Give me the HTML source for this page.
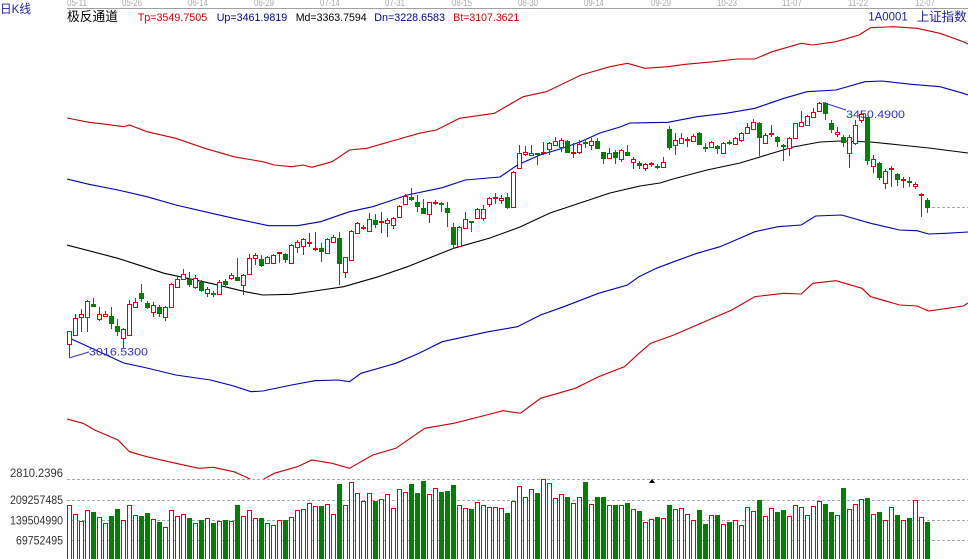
<!DOCTYPE html>
<html><head><meta charset="utf-8">
<style>
html,body{margin:0;padding:0;background:#fff;}
svg{display:block;}
text{font-family:"Liberation Sans","Noto Sans CJK SC",sans-serif;}
</style></head>
<body>
<svg id="s" width="968" height="559" viewBox="0 0 968 559" xmlns="http://www.w3.org/2000/svg">
<rect x="0" y="0" width="968" height="559" fill="#fff"/>
<defs><clipPath id="cp"><rect x="67" y="9" width="901" height="470"/></clipPath></defs>
<g fill="#a8a8a8" font-size="10.5">
<text x="67" y="6" textLength="20" lengthAdjust="spacingAndGlyphs">05-11</text>
<text x="122" y="6" textLength="20" lengthAdjust="spacingAndGlyphs">05-26</text>
<text x="188" y="6" textLength="20" lengthAdjust="spacingAndGlyphs">06-14</text>
<text x="254" y="6" textLength="20" lengthAdjust="spacingAndGlyphs">06-29</text>
<text x="320" y="6" textLength="20" lengthAdjust="spacingAndGlyphs">07-14</text>
<text x="385" y="6" textLength="20" lengthAdjust="spacingAndGlyphs">07-31</text>
<text x="452" y="6" textLength="20" lengthAdjust="spacingAndGlyphs">08-15</text>
<text x="518" y="6" textLength="20" lengthAdjust="spacingAndGlyphs">08-30</text>
<text x="584" y="6" textLength="20" lengthAdjust="spacingAndGlyphs">09-14</text>
<text x="651" y="6" textLength="20" lengthAdjust="spacingAndGlyphs">09-29</text>
<text x="717" y="6" textLength="20" lengthAdjust="spacingAndGlyphs">10-23</text>
<text x="782" y="6" textLength="20" lengthAdjust="spacingAndGlyphs">11-07</text>
<text x="848" y="6" textLength="20" lengthAdjust="spacingAndGlyphs">11-22</text>
<text x="915" y="6" textLength="20" lengthAdjust="spacingAndGlyphs">12-07</text>
</g>
<line x1="67" y1="8.5" x2="968" y2="8.5" stroke="#a0a0a0" stroke-width="1"/>
<text x="0" y="13" font-size="12" fill="#2020b0" textLength="31" lengthAdjust="spacingAndGlyphs">日K线</text>
<text x="67" y="21" font-size="13" fill="#000" textLength="51" lengthAdjust="spacingAndGlyphs">极反通道</text>
<g font-size="11">
<text x="137.7" y="21" fill="#d00000" textLength="69.5" lengthAdjust="spacingAndGlyphs">Tp=3549.7505</text>
<text x="216.7" y="21" fill="#000090" textLength="70.5" lengthAdjust="spacingAndGlyphs">Up=3461.9819</text>
<text x="295.7" y="21" fill="#000" textLength="71" lengthAdjust="spacingAndGlyphs">Md=3363.7594</text>
<text x="374.3" y="21" fill="#000090" textLength="70.7" lengthAdjust="spacingAndGlyphs">Dn=3228.6583</text>
<text x="453.3" y="21" fill="#d00000" textLength="66" lengthAdjust="spacingAndGlyphs">Bt=3107.3621</text>
</g>
<text x="868.3" y="20.7" font-size="12" fill="#1a1aa0" font-family="Liberation Serif,serif" textLength="39.4" lengthAdjust="spacingAndGlyphs">1A0001</text>
<text x="916.7" y="21" font-size="12.5" fill="#1a1aa0" textLength="50" lengthAdjust="spacingAndGlyphs">上证指数</text>

<g stroke="#a8a8a8" stroke-width="1" stroke-dasharray="3,2">
<line x1="67" y1="479.5" x2="968" y2="479.5"/>
<line x1="67" y1="500.5" x2="968" y2="500.5"/>
<line x1="67" y1="520.5" x2="968" y2="520.5"/>
<line x1="67" y1="540.5" x2="968" y2="540.5"/>
<line x1="932" y1="207.5" x2="968" y2="207.5"/>
</g>
<g font-size="11.5" fill="#333">
<text x="10" y="477" textLength="53" lengthAdjust="spacingAndGlyphs">2810.2396</text>
<text x="10" y="504" textLength="53" lengthAdjust="spacingAndGlyphs">209257485</text>
<text x="10" y="524.5" textLength="53" lengthAdjust="spacingAndGlyphs">139504990</text>
<text x="16" y="544.5" textLength="47" lengthAdjust="spacingAndGlyphs">69752495</text>
</g>
<polygon points="649,483 655,483 652,479" fill="#000"/>

<g clip-path="url(#cp)" fill="none" stroke-width="1.1">
<polyline stroke="#c80000" points="67,118 89,122.3 106,124.3 123.7,126.7 129.5,125 146.9,131.7 175.8,138.3 204.8,148.3 233.7,156.7 262.7,161.7 274.2,165 291.6,166.7 303.2,165 311.9,167.3 332.1,161.7 349.5,150 366.9,148.3 395.8,140 419,133.3 436.4,130 459.5,118.3 494.3,113.3 523.2,96.7 546.4,91.7 581.1,75 610,66.7 627.5,63.3 644.8,68.3 668,66.7 685.4,64.3 714.3,61.7 737.5,59 754.9,59 772.2,51.7 801.2,43.3 812.8,45 835.9,41.7 859,35 870.7,27.7 893.8,26.7 917,28.3 940,33.3 963.3,41.7 968,44"/>
<polyline stroke="#0000b8" points="67,179 89,184.3 117.9,190 146.9,196.7 175.8,205 204.8,211.7 233.7,218.3 268.5,225.7 297.4,225.7 320.6,221.7 349.5,211.7 372.7,206.7 407.4,195 442.2,187.7 465.3,180 500,177 517.4,165 540,155 560,149 580,142 600,133 620,127 630,123 668,122.3 697,116.7 726,113.3 754.9,108.3 784,98.3 807,91.7 835.9,90 865,81.7 882.2,81 911.2,84.3 940,86.7 963.3,93.3 968,95"/>
<polyline stroke="#000" points="67,245 117.9,258.3 164.2,273.3 210.6,283.3 245.3,291.7 262.7,295 291.6,294.3 314.8,291 343.7,286.7 378.5,276.7 407.4,266.7 453.7,248.3 490,238 520,227 550,213 580,203 610,193 640,186 660,183 673,179 707,170 740,163 773,153 793,147 820,142 840,141 871,142 900,145 929,148 968,153"/>
<polyline stroke="#0000b8" points="67,337 89,347 123.7,363 146.9,368 175.8,375 210.6,380 233.7,386 251,391.7 262.7,391 291.6,385 314.8,380.7 338,380 349.5,381.7 361,373.3 395.8,363.3 419,353.3 442.2,341.7 465.3,336.7 488.5,331.7 517.4,326.7 540.6,315 563.8,306.7 598.5,293.3 627.5,285 639,276.7 656.4,268.3 673.8,261.7 697,253.3 720,246.7 737.5,239.3 754.9,231.7 778,226.7 801.2,225 815.6,216 841.7,215 870.7,223.3 899.6,230 917,230.7 928.6,234 946,233.3 968,232"/>
<polyline stroke="#c80000" points="67,419 83,423.3 94.7,430 117.9,440 129.5,451.7 146.9,456.7 175.8,463.3 199,468.3 213.4,467.3 233.7,471.7 245.3,476.7 254,481 262,480 274.2,473.3 297.4,466.7 311.9,460 332.1,463.3 349.5,468.3 372.7,455 395.8,448.3 424.8,428.3 453.7,423.3 482.7,416 503,410.7 520.3,413.3 540.6,398.3 575.3,388.3 598.5,376.7 624.6,366.7 639,353.3 650.6,343.3 673.8,335 697,325 731.7,310 754.9,296.7 783.8,293.3 801.2,294 812.8,283.3 835.9,280.7 862,288.3 870.7,296.7 899.6,305 917,306 928.6,311 963.3,306 968,303"/>
</g>
<g id="cd" shape-rendering="crispEdges"></g>
<g id="vb" shape-rendering="crispEdges"></g>
<line x1="69" y1="358" x2="89" y2="352" stroke="#3030c0" stroke-width="1"/>
<text x="89" y="355.5" font-size="11" fill="#3030c0" textLength="59" lengthAdjust="spacingAndGlyphs">3016.5300</text>
<line x1="823" y1="102.5" x2="846" y2="110" stroke="#3030c0" stroke-width="1"/>
<text x="846" y="118" font-size="11" fill="#3030c0" textLength="59" lengthAdjust="spacingAndGlyphs">3450.4900</text>
</svg>
<script>
var C=[
['r',331,344,331,357],['r',318,335,314,336],['r',314,317,309,332],['r',301,317,300,332],['g',304,306,298,307],
['r',314,319,307,321],['r',314,316,311,317],['g',316,323,307,329],['g',326,331,319,336],['r',329,338,328,348],
['r',304,335,300,336],['r',302,307,298,308],['g',293,298,284,302],['g',303,307,301,309],['r',305,312,302,317],
['g',307,313,305,317],['r',307,317,306,321],['r',284,307,283,308],['r',279,287,277,288],['r',274,279,269,280],
['g',279,284,272,287],['r',278,287,275,289],['g',282,290,280,292],['r',289,293,287,297],['g',293,294,291,297],
['r',282,294,280,295],['g',281,284,279,286],['r',275,278,273,280],['g',277,280,258,281],['r',275,285,274,295],
['r',258,274,254,275],['r',255,258,253,265],['g',259,265,255,267],['r',257,263,256,264],['r',255,263,254,264],
['r',252,253,252,263],['g',254,259,253,263],['r',245,263,244,264],['r',242,247,240,253],['r',239,246,238,255],
['r',242,243,233,247],['r',248,249,232,251],['g',248,251,243,262],['r',239,253,238,254],['r',237,242,235,242],
['g',238,263,232,285],['r',257,272,257,278],['r',231,260,230,261],['r',223,233,222,234],['r',227,228,225,230],
['r',219,231,213,232],['g',220,224,214,228],['r',221,222,212,233],['r',220,223,218,237],['r',218,225,217,229],
['r',206,217,205,218],['r',196,204,194,205],['g',197,199,188,201],['g',202,206,195,212],['g',208,213,199,213],
['r',202,214,202,223],['r',202,203,200,205],['g',203,204,202,212],['g',208,212,202,227],['g',227,244,223,249],
['r',227,246,226,247],['r',219,228,212,228],['g',221,222,221,232],['r',209,218,208,219],['r',209,218,205,221],
['r',198,204,197,207],['r',197,198,193,204],['r',198,200,195,204],['g',197,207,193,209],['r',172,207,171,208],
['r',153,168,145,169],['r',152,154,146,156],['r',153,155,145,155],['g',153,154,153,165],['r',152,153,142,155],
['r',143,149,142,155],['r',141,145,137,145],['r',140,147,138,152],['g',141,152,140,153],['r',152,153,143,158],
['r',144,152,140,154],['g',142,143,139,148],['r',141,145,138,150],['g',141,148,138,148],['g',152,158,152,164],
['r',153,158,148,158],['g',152,157,150,164],['r',150,159,149,162],['g',152,155,145,156],['r',159,162,157,169],
['g',163,165,161,169],['r',164,168,163,171],['r',163,164,162,167],['g',166,167,164,169],['r',162,167,157,167],
['g',129,147,126,150],['r',140,145,133,155],['r',138,143,133,144],['r',139,140,137,147],['r',136,141,134,142],
['g',133,144,132,145],['g',147,148,143,152],['r',142,147,141,147],['g',146,148,145,154],['r',143,153,142,154],
['g',142,143,140,145],['r',138,144,137,145],['r',133,140,132,142],['r',127,133,123,134],['r',122,129,119,130],
['g',123,137,122,156],['r',135,143,133,143],['r',133,134,125,137],['g',137,141,136,147],['g',145,146,144,161],
['r',138,148,137,156],['r',123,138,123,138],['r',122,126,111,127],['r',116,125,115,126],['r',112,117,108,117],
['r',103,111,102,112],['g',103,113,102,120],['g',123,129,120,133],['r',132,134,127,137],['g',137,142,135,147],
['r',137,153,135,168],['r',125,143,120,145],['r',114,120,111,123],['g',117,160,117,165],['r',159,166,155,173],
['g',163,177,162,180],['r',171,183,169,189],['r',168,169,166,187],['g',174,179,173,186],['r',179,180,177,188],
['g',181,182,177,187],['r',184,186,182,189],['r',194,195,193,217],['g',200,207,198,213]
];
var V=[505,514,521,510,512,517,523,516,509,520,505,515,516,513,519,522,527,510,516,514,518,523,520,518,523,521,520,521,505,516,510,518,518,523,525,520,520,517,510,509,503,506,506,504,514,484,505,482,493,501,493,501,499,494,508,489,492,484,493,481,494,488,492,491,485,505,508,509,502,505,507,507,508,513,501,486,497,489,493,479,483,498,494,497,503,497,482,504,497,497,505,505,505,503,509,511,522,519,517,518,505,509,508,514,520,510,524,515,515,524,522,520,525,507,511,500,516,508,512,510,516,505,507,515,506,501,504,512,515,488,509,504,499,498,514,512,520,507,515,520,518,500,517,522];
var RED='#e00000',GRN='#008000',NS='http://www.w3.org/2000/svg';
var gc=document.getElementById('cd'),gv=document.getElementById('vb');
function el(parent,tag,attrs){var e=document.createElementNS(NS,tag);for(var a in attrs){e.setAttribute(a,attrs[a]);}parent.appendChild(e);return e;}
function rect(parent,x,y,w,h,col,hollow){
  if(hollow){
    el(parent,'rect',{x:x,y:y,width:w,height:h,fill:col});
    if(w>2&&h>2) el(parent,'rect',{x:x+1,y:y+1,width:w-2,height:h-2,fill:'#fff'});
  }else{
    el(parent,'rect',{x:x,y:y,width:w,height:h,fill:col});
  }
}
for(var k=0;k<C.length;k++){
  var c=C[k],x=67+6*k,col=c[0]=='r'?RED:GRN;
  var bt=c[1],bb=c[2],hi=c[3],lo=c[4];
  if(lo<=hi)lo=hi+1;
  el(gc,'rect',{x:x+2,y:hi,width:1,height:lo-hi,fill:col});
  if(bb-bt<=1){
    el(gc,'rect',{x:x,y:bt,width:5,height:2,fill:col});
  }else{
    rect(gc,x,bt,5,bb-bt+1,col,c[0]=='r');
  }
  var t=V[k];
  if(c[0]=='r'){
    el(gv,'rect',{x:x,y:t,width:5,height:559-t+2,fill:RED});
    el(gv,'rect',{x:x+1,y:t+1,width:3,height:559-t+2,fill:'#fff'});
  }else{
    el(gv,'rect',{x:x,y:t,width:5,height:559-t+2,fill:GRN});
  }
}
</script>
</body></html>
